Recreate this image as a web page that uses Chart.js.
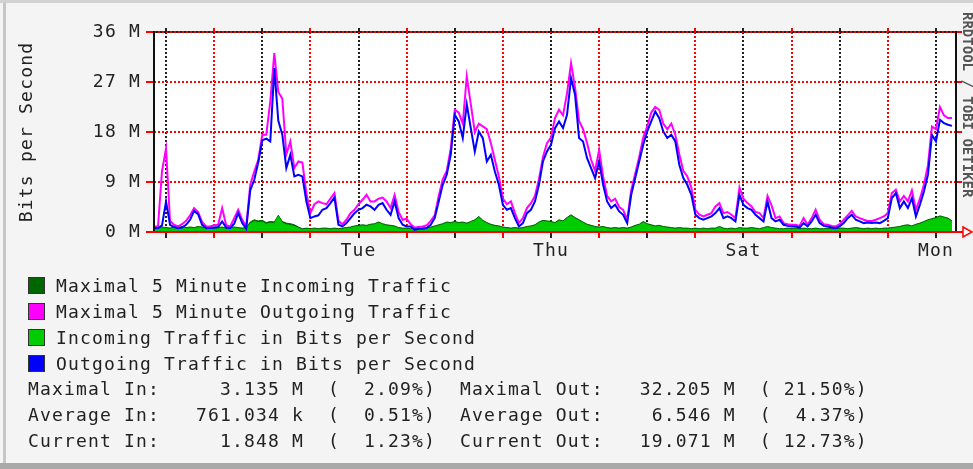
<!DOCTYPE html>
<html>
<head>
<meta charset="utf-8">
<script src="https://cdn.jsdelivr.net/npm/chart.js@4.4.1/dist/chart.umd.min.js"></script>
<style>
  body { margin: 0; width: 973px; height: 469px; overflow: hidden; position: relative; background: #f4f4f4; font-family: "DejaVu Sans Mono", monospace; }
  #topband { position: absolute; left: 0; top: 0; width: 973px; height: 3px; background: #d2d2d2; }
  #leftline { position: absolute; left: 3px; top: 3px; width: 3px; height: 460px; background: #c6c6c6; }
  #botband { position: absolute; left: 0; top: 463px; width: 973px; height: 6px; background: #a9a9a9; }
  canvas { position: absolute; left: 0; top: 0; }
  .row { position: absolute; left: 28px; height: 26px; line-height: 26px; font-size: 18px; letter-spacing: 1.16px; color: #222; white-space: pre; }
  .box { display: inline-block; width: 15px; height: 15px; border: 1px solid #333; vertical-align: -2px; margin-right: 11px; }
</style>
</head>
<body>
<div id="topband"></div>
<div id="leftline"></div>
<div id="botband"></div>
<canvas id="chart" width="973" height="469"></canvas>
<div id="legend"></div>
<script>
// hourly samples, Mbit/s (oldest on the left)
let outTraffic = [
  0.7, 0.7, 1.2, 5.5, 1.3, 0.9, 0.7, 0.8, 1.3, 2.2,
  3.8, 3.2, 1.3, 0.7, 0.7, 0.8, 0.9, 1.9, 0.8, 0.7,
  1.5, 3.4, 1.6, 0.6, 7.5, 9.4, 12.5, 16.5, 16.8, 16.3,
  29.5, 20, 17.5, 11.5, 13.9, 10, 10.3, 10, 5.5, 2.5,
  2.8, 3, 4, 4.3, 5.2, 6.2, 1.3, 1.0, 1.6, 2.5,
  3.4, 4, 4.3, 4.9, 4.6, 4, 4.9, 5.2, 4, 3.1,
  5.5, 2.5, 1.3, 1.0, 1.0, 0.4, 0.6, 0.6, 0.7, 1.3,
  2.5, 5.5, 8.5, 10.3, 13.9, 21.1, 19.9, 16.9, 23, 18.7,
  14.5, 18.1, 16.9, 12.7, 13.9, 10.9, 8.5, 4.9, 4.0, 4.3,
  2.5, 1.0, 1.6, 3.4, 4.0, 5.5, 8.5, 12.7, 14.5, 15.7,
  18.7, 19.9, 18.7, 21.1, 27.7, 24.7, 16.9, 16.3, 13.3, 11.5,
  9.7, 12.7, 8.5, 5.5, 4.3, 4.9, 3.7, 3.1, 1.6, 6.7,
  9.7, 12.7, 15.7, 18.1, 19.9, 21.7, 20.5, 18.1, 16.9, 17.5,
  16.3, 12.1, 9.7, 8.5, 6.7, 3.1, 2.5, 2.2, 2.5, 2.8,
  3.4, 4.3, 2.5, 2.8, 2.5, 1.9, 6.7, 4.9, 4.3, 4.0,
  3.1, 2.5, 1.9, 5.5, 2.5, 1.9, 2.2, 1.3, 1.1, 1.0,
  1.0, 0.8, 1.6, 1.0, 1.9, 3.1, 1.6, 1.1, 1.0, 0.8,
  0.7, 1.0, 1.6, 2.5, 3.1, 2.2, 1.9, 1.6, 1.7, 1.6,
  1.7, 1.6, 2.0, 2.5, 6.1, 7.0, 4.3, 5.5, 4.3, 6.1,
  2.8, 4.9, 7.3, 10.3, 17.5, 16.3, 20.2, 19.6, 19.3, 19.1
];
let maxOutTraffic = [
  1.0, 1.0, 11, 15, 2.0, 1.3, 1.0, 1.4, 2.0, 3.0,
  4.3, 3.6, 1.8, 1.0, 1.0, 1.2, 1.3, 4.3, 1.2, 1.0,
  2.5, 4.0, 2.2, 1.0, 8.5, 10.9, 13.0, 17.5, 17.5, 23.5,
  32.2, 25.2, 24, 14, 16.3, 11.5, 12.7, 12.5, 7, 3.4,
  5.0, 5.5, 5.2, 5.0, 6.0, 7.0, 2.0, 1.4, 2.2, 3.4,
  4.0, 5.0, 5.8, 6.7, 5.5, 5.5, 6.0, 6.2, 5.5, 4.3,
  6.7, 3.6, 2.2, 2.4, 1.4, 0.8, 0.9, 1.0, 1.2, 2.0,
  3.0, 6.5, 9.5, 11, 15, 22, 21.5, 19.5, 28, 23,
  18, 19.5, 19, 18.5, 16, 13, 10, 6, 5, 5.5,
  3.4, 1.6, 2.5, 4.3, 5.2, 6.5, 9.5, 13.5, 16, 17,
  20.5, 22, 21, 25, 30.4, 26, 20, 18.5, 16, 13,
  11, 14.8, 10, 6.5, 5.5, 6, 4.5, 4, 2.2, 7.5,
  10.5, 13.5, 17, 19, 21.5, 22.5, 22, 19.5, 18.5, 19.5,
  17.5, 14, 11, 10, 8, 4, 3.1, 2.8, 3.1, 3.4,
  4.6, 5.2, 3.4, 3.6, 3.1, 2.5, 8, 6, 5.2, 4.6,
  3.6, 3.4, 2.5, 6.5, 4.8, 2.5, 2.8, 1.6, 1.4, 1.3,
  1.3, 1.1, 2.5, 1.3, 2.5, 4.0, 2.2, 1.4, 1.3, 1.1,
  1.0, 1.4, 2.2, 3.0, 3.8, 2.8, 2.5, 2.2, 2.0, 2.0,
  2.2, 2.5, 2.8, 3.4, 7.0, 7.6, 5.5, 6.5, 5.5, 7.5,
  4.0, 6.0, 8.5, 12, 19.0, 18.5, 22.5, 21, 20.5, 20.5
];
let inTraffic = [
  0.6, 0.5, 0.7, 0.6, 0.5, 0.7, 0.6, 0.8, 0.6, 0.7,
  0.6, 0.8, 0.7, 0.5, 0.6, 0.5, 0.6, 0.7, 0.5, 0.6,
  0.7, 0.6, 0.5, 0.6, 1.5, 1.9, 1.7, 1.8, 1.4, 1.6,
  1.5, 2.8, 1.6, 1.3, 1.2, 1.0, 0.7, 0.4, 0.5, 0.4,
  0.5, 0.4, 0.5, 0.5, 0.4, 0.5, 0.4, 0.5, 0.6, 0.7,
  0.9, 1.0, 1.1, 1.0, 1.2, 1.3, 1.6, 1.3, 1.1, 1.0,
  0.9, 0.6, 0.5, 0.5, 0.4, 0.5, 0.4, 0.5, 0.6, 0.7,
  0.9, 1.1, 1.3, 1.6, 1.5, 1.7, 1.5, 1.6, 1.4, 1.7,
  2.0, 2.6, 1.9, 1.5, 1.2, 1.0, 0.9, 0.7, 0.6, 0.5,
  0.6, 0.5, 0.6, 0.8, 0.9, 1.1, 1.6, 1.9, 1.8, 1.7,
  1.5, 2.0, 1.8, 2.4, 2.9, 2.4, 2.0, 1.6, 1.2, 1.0,
  0.8, 0.7, 0.8, 0.6, 0.5, 0.6, 0.5, 0.6, 0.5, 0.7,
  1.0, 1.2, 1.7, 1.3, 1.1, 0.9, 1.0, 0.8, 0.7, 0.6,
  0.5, 0.6, 0.5, 0.5, 0.4, 0.5, 0.4, 0.5, 0.4, 0.5,
  0.5, 0.8, 0.5, 0.4, 0.5, 0.4, 0.6, 0.5, 0.5, 0.6,
  0.5, 0.4, 0.6, 0.8, 0.6, 0.5, 0.4, 0.4, 0.5, 0.4,
  0.5, 0.4, 0.5, 0.4, 0.4, 0.5, 0.4, 0.4, 0.5, 0.4,
  0.4, 0.5, 0.5, 0.4, 0.5, 0.6, 0.5, 0.4, 0.5, 0.4,
  0.5, 0.4, 0.5, 0.5, 0.6, 0.7, 0.8, 1.0, 1.1, 0.9,
  1.2, 1.4, 1.7, 2.0, 2.2, 2.4, 2.7, 2.5, 2.3, 1.8
];
let maxInTraffic = [
  0.8, 0.7, 0.9, 0.8, 0.7, 0.9, 0.8, 1.0, 0.8, 0.9,
  0.8, 1.0, 0.9, 0.7, 0.8, 0.7, 0.8, 0.9, 0.7, 0.8,
  0.9, 0.8, 0.7, 0.8, 1.8, 2.2, 2.0, 2.1, 1.7, 1.9,
  1.8, 3.0, 1.9, 1.6, 1.5, 1.3, 0.9, 0.6, 0.7, 0.6,
  0.7, 0.6, 0.7, 0.7, 0.6, 0.7, 0.6, 0.7, 0.8, 0.9,
  1.1, 1.2, 1.3, 1.2, 1.4, 1.5, 1.8, 1.5, 1.3, 1.2,
  1.1, 0.8, 0.7, 0.7, 0.6, 0.7, 0.6, 0.7, 0.8, 0.9,
  1.1, 1.3, 1.5, 1.8, 1.7, 1.9, 1.7, 1.8, 1.6, 1.9,
  2.2, 2.8, 2.1, 1.7, 1.4, 1.2, 1.1, 0.9, 0.8, 0.7,
  0.8, 0.7, 0.8, 1.0, 1.1, 1.3, 1.8, 2.1, 2.0, 1.9,
  1.7, 2.2, 2.0, 2.6, 3.1, 2.6, 2.2, 1.8, 1.4, 1.2,
  1.0, 0.9, 1.0, 0.8, 0.7, 0.8, 0.7, 0.8, 0.7, 0.9,
  1.2, 1.4, 1.9, 1.5, 1.3, 1.1, 1.2, 1.0, 0.9, 0.8,
  0.7, 0.8, 0.7, 0.7, 0.6, 0.7, 0.6, 0.7, 0.6, 0.7,
  0.7, 1.0, 0.7, 0.6, 0.7, 0.6, 0.8, 0.7, 0.7, 0.8,
  0.7, 0.6, 0.8, 1.0, 0.8, 0.7, 0.6, 0.6, 0.7, 0.6,
  0.7, 0.6, 0.7, 0.6, 0.6, 0.7, 0.6, 0.6, 0.7, 0.6,
  0.6, 0.7, 0.7, 0.6, 0.7, 0.8, 0.7, 0.6, 0.7, 0.6,
  0.7, 0.6, 0.7, 0.7, 0.8, 0.9, 1.0, 1.2, 1.3, 1.1,
  1.4, 1.6, 1.9, 2.2, 2.4, 2.6, 2.9, 2.7, 2.5, 2.0
];

// grid: midnight (black) and noon (red) every 12 hours
let tickHours = [3, 15, 27, 39, 51, 63, 75, 87, 99, 111, 123, 135, 147, 159, 171, 183, 195];
let tickLabels = ["", "", "", "", "Tue", "", "", "", "Thu", "", "", "", "Sat", "", "", "", "Mon"];
let yTicks = [0, 9, 18, 27, 36];

let legendItems = [
  ["#006600", "Maximal 5 Minute Incoming Traffic"],
  ["#ff00ff", "Maximal 5 Minute Outgoing Traffic"],
  ["#00cc00", "Incoming Traffic in Bits per Second"],
  ["#0000ff", "Outgoing Traffic in Bits per Second"]
];
let statLines = [
  "Maximal In:     3.135 M  (  2.09%)  Maximal Out:   32.205 M  ( 21.50%)",
  "Average In:   761.034 k  (  0.51%)  Average Out:    6.546 M  (  4.37%)",
  "Current In:     1.848 M  (  1.23%)  Current Out:   19.071 M  ( 12.73%)"
];

let toPoints = arr => arr.map((v, i) => ({ x: i, y: v }));

let FONT = "DejaVu Sans Mono";

let mrtgFrame = {
  id: "mrtgFrame",
  beforeDraw(chart) {
    let ctx = chart.ctx, a = chart.chartArea;
    ctx.save();
    ctx.fillStyle = "#ffffff";
    ctx.fillRect(a.left, a.top, a.right - a.left, a.bottom - a.top);
    ctx.restore();
    ctx.letterSpacing = "1.2px";
  },
  afterDatasetsDraw(chart) {
    let ctx = chart.ctx, a = chart.chartArea;
    let x = chart.scales.x, y = chart.scales.y;
    ctx.save();
    // black dots between the red ones on the top line
    ctx.strokeStyle = "#222";
    ctx.lineWidth = 2;
    ctx.setLineDash([2, 2]);
    ctx.lineDashOffset = 2;
    ctx.beginPath();
    ctx.moveTo(a.left, a.top);
    ctx.lineTo(a.right, a.top);
    ctx.stroke();
    ctx.setLineDash([]);
    // small marks above top line
    tickHours.forEach((h, i) => {
      let px = Math.round(x.getPixelForValue(h));
      ctx.strokeStyle = i % 2 === 0 ? "#222" : "#ff0000";
      ctx.beginPath();
      ctx.moveTo(px, a.top - 4);
      ctx.lineTo(px, a.top);
      ctx.stroke();
    });
    // red marks right of the frame
    ctx.strokeStyle = "#ff0000";
    yTicks.forEach(v => {
      let py = y.getPixelForValue(v);
      ctx.beginPath();
      ctx.moveTo(a.right, py);
      ctx.lineTo(a.right + 6, py);
      ctx.stroke();
    });
    // left and right black lines
    ctx.strokeStyle = "#111";
    ctx.beginPath();
    ctx.moveTo(a.left, a.top - 1);
    ctx.lineTo(a.left, a.bottom);
    ctx.moveTo(a.right, a.top - 1);
    ctx.lineTo(a.right, a.bottom);
    ctx.stroke();
    // red x axis with arrow
    ctx.strokeStyle = "#ff0000";
    ctx.beginPath();
    ctx.moveTo(a.left - 8, a.bottom);
    ctx.lineTo(a.right + 7, a.bottom);
    ctx.stroke();
    ctx.lineWidth = 1.5;
    ctx.fillStyle = "#ffffff";
    ctx.beginPath();
    ctx.moveTo(a.right + 7, a.bottom - 5);
    ctx.lineTo(a.right + 16, a.bottom);
    ctx.lineTo(a.right + 7, a.bottom + 5);
    ctx.closePath();
    ctx.fill();
    ctx.stroke();
    // credit text on the right edge, partly cut off
    ctx.translate(963, 12);
    ctx.rotate(Math.PI / 2);
    ctx.font = "bold 14px " + FONT;
    ctx.letterSpacing = "0px";
    ctx.fillStyle = "#555";
    ctx.textBaseline = "alphabetic";
    ctx.fillText("RRDTOOL / TOBI OETIKER", 0, 0);
    ctx.restore();
  }
};

new Chart(document.getElementById("chart"), {
  type: "line",
  data: {
    datasets: [
      {
        label: "Outgoing Traffic in Bits per Second",
        data: toPoints(outTraffic),
        borderColor: "#0000ff",
        borderWidth: 2,
        fill: false,
        order: 0
      },
      {
        label: "Maximal 5 Minute Outgoing Traffic",
        data: toPoints(maxOutTraffic),
        borderColor: "#ff00ff",
        borderWidth: 2,
        fill: false,
        order: 1
      },
      {
        label: "Incoming Traffic in Bits per Second",
        data: toPoints(inTraffic),
        borderColor: "#00cc00",
        backgroundColor: "#00cc00",
        borderWidth: 1,
        fill: "origin",
        order: 2
      },
      {
        label: "Maximal 5 Minute Incoming Traffic",
        data: toPoints(maxInTraffic),
        borderColor: "#006600",
        backgroundColor: "#006600",
        borderWidth: 1,
        fill: "origin",
        order: 3
      }
    ]
  },
  options: {
    responsive: false,
    animation: false,
    elements: { point: { radius: 0 }, line: { tension: 0 } },
    layout: { padding: { left: 0, right: 17, top: 32, bottom: 0 } },
    plugins: { legend: { display: false }, tooltip: { enabled: false } },
    scales: {
      x: {
        type: "linear",
        min: 0,
        max: 200,
        afterFit: s => { s.height = 237; },
        afterBuildTicks: s => { s.ticks = tickHours.map(v => ({ value: v })); },
        border: { display: false, dash: [2, 2] },
        grid: {
          color: c => (c.index % 2 === 0 ? "#222" : "#ff0000"),
          lineWidth: 2,
          tickLength: 6,
          tickWidth: 2,
          tickBorderDash: []
        },
        ticks: {
          autoSkip: false,
          maxRotation: 0,
          padding: 3,
          color: "#222",
          font: { family: FONT, size: 18 },
          callback: (v, i) => tickLabels[i]
        }
      },
      y: {
        min: 0,
        max: 36,
        afterFit: s => { s.width = 154; },
        afterBuildTicks: s => { s.ticks = yTicks.map(v => ({ value: v })); },
        border: { display: false, dash: [2, 2] },
        grid: {
          color: c => (c.tick.value === 0 ? "rgba(0,0,0,0)" : "#ff0000"),
          lineWidth: 2,
          tickLength: 8,
          tickWidth: 2,
          tickColor: "#ff0000",
          tickBorderDash: []
        },
        ticks: {
          padding: 5,
          color: "#222",
          font: { family: FONT, size: 18 },
          callback: v => v + " M"
        },
        title: {
          display: true,
          text: "Bits per Second",
          color: "#222",
          font: { family: FONT, size: 18 },
          padding: { top: 17, bottom: 0 }
        }
      }
    }
  },
  plugins: [mrtgFrame]
});

// legend and statistics below the graph
let legend = document.getElementById("legend");
legendItems.forEach((item, i) => {
  let row = document.createElement("div");
  row.className = "row";
  row.style.top = (273 + i * 26) + "px";
  let box = document.createElement("span");
  box.className = "box";
  box.style.background = item[0];
  row.appendChild(box);
  row.appendChild(document.createTextNode(item[1]));
  legend.appendChild(row);
});
statLines.forEach((line, i) => {
  let row = document.createElement("div");
  row.className = "row";
  row.style.top = (376 + i * 26) + "px";
  row.textContent = line;
  legend.appendChild(row);
});
</script>
</body>
</html>
